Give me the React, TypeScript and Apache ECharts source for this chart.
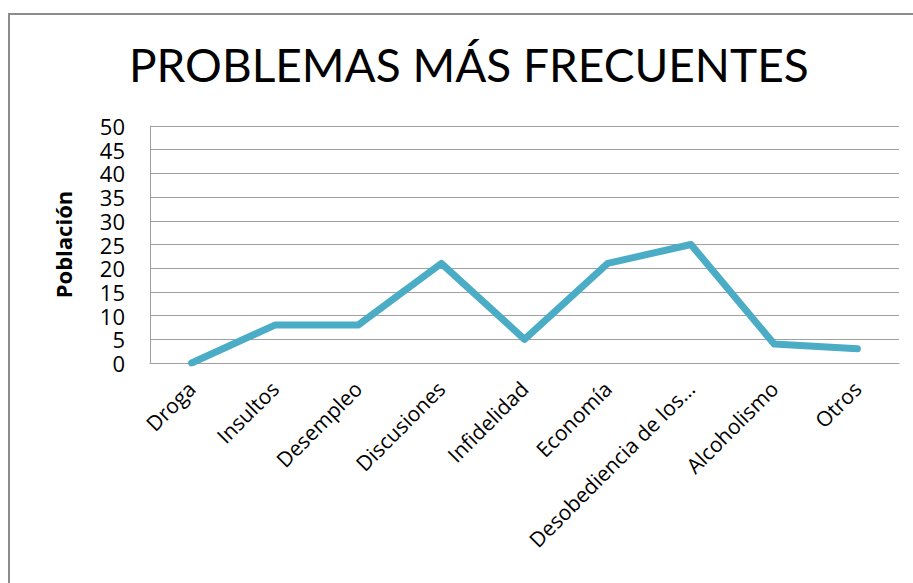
import React, { useEffect, useRef } from "react";
import * as echarts from "echarts";

const categories = [
  "Droga",
  "Insultos",
  "Desempleo",
  "Discusiones",
  "Infidelidad",
  "Economía",
  "Desobediencia de los…",
  "Alcoholismo",
  "Otros",
];
const poblacion = [0, 8, 8, 21, 5, 21, 25, 4, 3];
const titleText = "PROBLEMAS MÁS FRECUENTES";
const yAxisName = "Población";

export default function App() {
  const ref = useRef<HTMLDivElement>(null);
  useEffect(() => {
    if (!ref.current) return;
    const chart = echarts.init(ref.current, undefined, { renderer: "svg" });
    chart.setOption({
      animation: false,
      backgroundColor: "#ffffff",
      graphic: [
        {
          type: "rect",
          shape: { x: 9, y: 14, width: 1000, height: 700 },
          style: { fill: "none", stroke: "#8c8c8c", lineWidth: 2 },
          silent: true,
        },
      ],
      title: {
        text: titleText,
        left: 124,
        top: 36,
        textStyle: {
          fontFamily: "Lato",
          fontWeight: "normal",
          fontSize: 46,
          color: "#000",
        },
      },
      grid: { left: 150, right: 14, top: 126, bottom: 220, containLabel: false },
      xAxis: {
        type: "category",
        data: categories,
        boundaryGap: true,
        axisLine: { show: true, lineStyle: { color: "#a0a0a0", width: 1 } },
        axisTick: { show: false },
        axisLabel: {
          rotate: 45,
          margin: 22,
          interval: 0,
          fontFamily: "Open Sans",
          fontSize: 21,
          color: "#000",
        },
      },
      yAxis: {
        type: "value",
        min: 0,
        max: 50,
        interval: 5,
        name: yAxisName,
        nameLocation: "middle",
        nameGap: 76,
        nameRotate: 90,
        nameTextStyle: {
          fontFamily: "Open Sans",
          fontWeight: "bold",
          fontSize: 22,
          color: "#000",
        },
        axisLine: { show: true, lineStyle: { color: "#a0a0a0", width: 1 } },
        axisTick: { show: false },
        splitLine: { show: true, lineStyle: { color: "#a0a0a0", width: 1 } },
        axisLabel: {
          margin: 25,
          fontFamily: "Open Sans",
          fontSize: 22,
          lineHeight: 20,
          showMinLabel: true,
          showMaxLabel: true,
          hideOverlap: false,
          color: "#000",
        },
      },
      series: [
        {
          type: "line",
          data: poblacion,
          showSymbol: false,
          symbol: "none",
          lineStyle: { color: "#4BACC6", width: 7, cap: "round", join: "round" },
          itemStyle: { color: "#4BACC6" },
        },
      ],
    });
    return () => chart.dispose();
  }, []);
  return (
    <div
      ref={ref}
      style={{ position: "fixed", left: 0, top: 0, width: 913, height: 583 }}
    />
  );
}
